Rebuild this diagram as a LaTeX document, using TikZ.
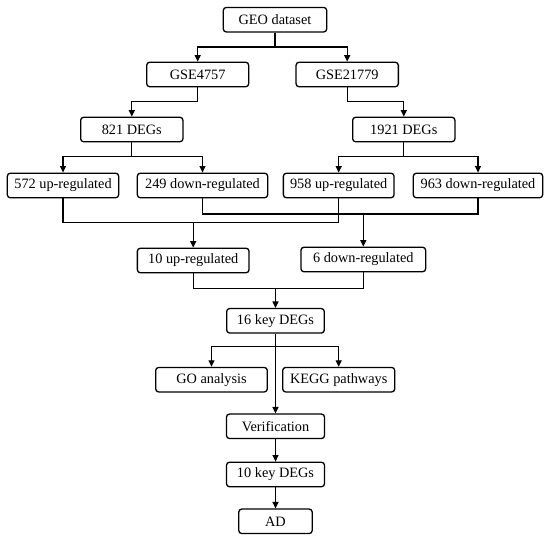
\documentclass[tikz,border=0pt]{standalone}
\usepackage{fontspec}
\setmainfont{Liberation Serif}
\usetikzlibrary{arrows.meta}
\begin{document}
\begin{tikzpicture}[x=1pt,y=-1pt,
  box/.style={draw, line width=1.3pt, rounded corners=3pt, minimum height=24.5pt, inner sep=1pt, font=\fontsize{14.3}{16}\selectfont},
  conn/.style={line width=1.3pt},
  arr/.style={conn, -{Triangle[length=6.5pt,width=6pt]}}]
\useasboundingbox (0,0) rectangle (550,540);
\node[box, minimum width=103.4pt] (geo) at (275,19.7) {GEO dataset};
\node[box, minimum width=102pt] (gse1) at (197.7,74.5) {GSE4757};
\node[box, minimum width=102.3pt] (gse2) at (347.2,74.5) {GSE21779};
\node[box, minimum width=102.3pt] (d821) at (131.8,129.5) {821 DEGs};
\node[box, minimum width=102.3pt] (d1921) at (403.8,129.5) {1921 DEGs};
\node[box, minimum width=111.4pt] (u572) at (63,185.5) {572 up-regulated};
\node[box, minimum width=130.4pt] (d249) at (202.5,185.5) {249 down-regulated};
\node[box, minimum width=110.7pt] (u958) at (338.7,185.5) {958 up-regulated};
\node[box, minimum width=129.4pt] (d963) at (478,185.5) {963 down-regulated};
\node[box, minimum width=111.7pt] (u10) at (193.2,260.5) {10 up-regulated};
\node[box, minimum width=124.7pt] (d6) at (363.3,259.5) {6 down-regulated};
\node[box, minimum width=97.6pt] (k16) at (275.5,320.8) {16 key DEGs};
\node[box, minimum width=111.6pt] (go) at (211.5,379.7) {GO analysis};
\node[box, minimum width=112pt] (kegg) at (338.7,379.7) {KEGG pathways};
\node[box, minimum width=98pt] (ver) at (275.5,426.3) {Verification};
\node[box, minimum width=98pt] (k10) at (275.5,474.5) {10 key DEGs};
\node[box, minimum width=73.4pt] (ad) at (275.5,521.3) {AD};

\coordinate (j1) at (275,47);
\draw[conn] (geo) -- (j1);
\draw[arr] (j1) -| (gse1);
\draw[arr] (j1) -| (gse2);

\coordinate (j2) at (197.7,101.7);
\draw[conn] (gse1) -- (j2);
\draw[arr] (j2) -| (d821);
\coordinate (j3) at (347.2,101.7);
\draw[conn] (gse2) -- (j3);
\draw[arr] (j3) -| (d1921);

\coordinate (j4) at (131.8,156.7);
\draw[conn] (d821) -- (j4);
\draw[arr] (j4) -| (u572);
\draw[arr] (j4) -| (d249);
\coordinate (j5) at (403.8,156.7);
\draw[conn] (d1921) -- (j5);
\draw[arr] (j5) -| (u958);
\draw[arr] (j5) -| (d963);

\coordinate (m1) at (193.2,222.7);
\draw[conn] (u572.south) |- (m1) -| (u958.south);
\draw[arr] (m1) -- (u10);
\coordinate (m2) at (363.3,214);
\draw[conn] (d249.south) |- (m2) -| (d963.south);
\draw[arr] (m2) -- (d6);

\coordinate (m3) at (275.5,288.3);
\draw[conn] (u10.south) |- (m3) -| (d6.south);
\draw[arr] (m3) -- (k16);

\coordinate (m4) at (275.5,346.7);
\draw[conn] (k16) -- (m4);
\draw[arr] (m4) -| (go);
\draw[arr] (m4) -| (kegg);
\draw[arr] (m4) -- (ver);
\draw[arr] (ver) -- (k10);
\draw[arr] (k10) -- (ad);
\end{tikzpicture}
\end{document}
